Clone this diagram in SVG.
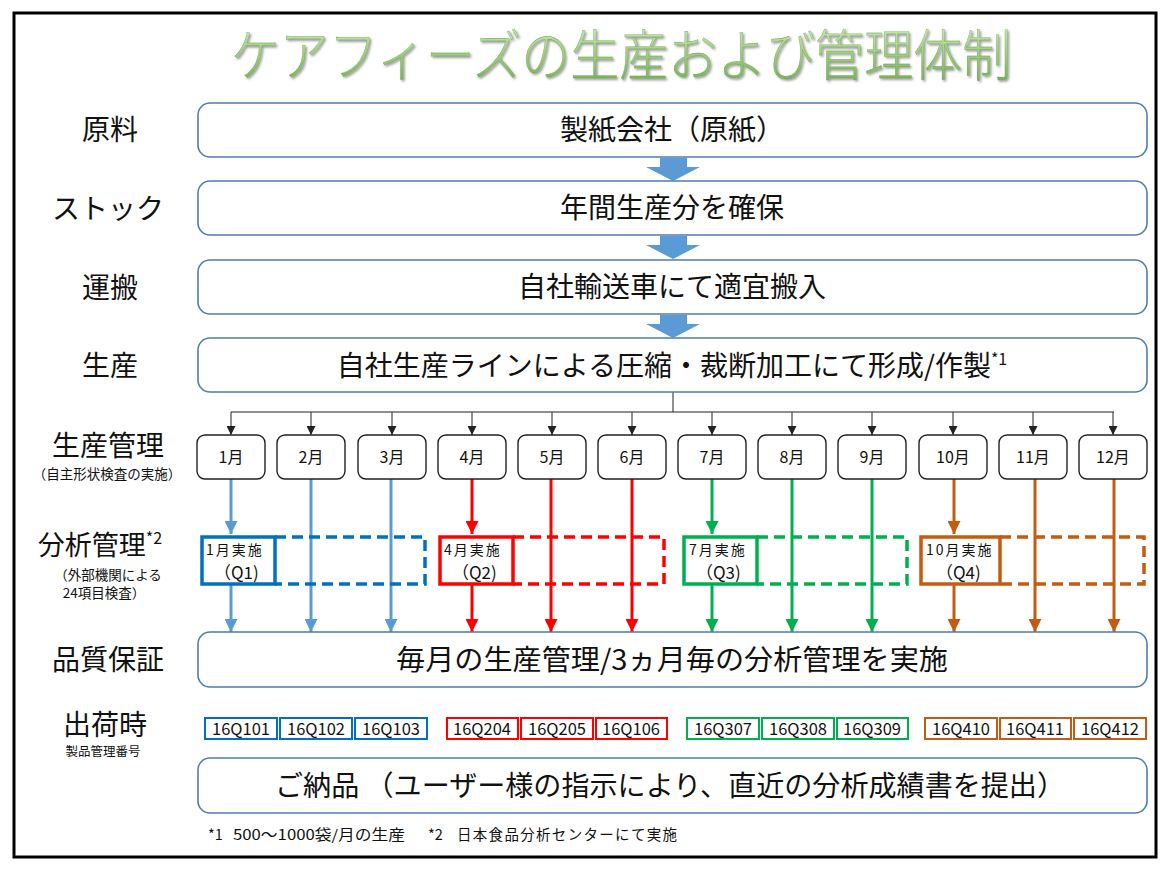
<svg xmlns="http://www.w3.org/2000/svg" width="1170" height="878" viewBox="0 0 1170 878">
<defs>
<style>
text{font-family:"Noto Sans CJK JP","Noto Sans",sans-serif;fill:#111}
.lbl{font-size:28px;text-anchor:middle}
.sub{font-size:13.5px;text-anchor:middle}
.main{fill:#fff;stroke:#4f7eab;stroke-width:1.6}
.mt{font-size:28px;text-anchor:middle}
.mon{fill:#fff;stroke:#222;stroke-width:1.4}
.mtx{font-size:16px;text-anchor:middle}
.tree{stroke:#222;stroke-width:1;fill:none}
.lot{fill:#fff;stroke-width:2}
.ltx{font-size:16.5px;text-anchor:middle}
.qt{font-size:14px;letter-spacing:2px}
.qt2{font-size:17px}
.b{stroke:#5b9bd5}.r{stroke:#ff0000}.g{stroke:#00b050}.o{stroke:#c55a11}
.arr{stroke-width:3;fill:none}
</style>
<linearGradient id="tg" x1="0" y1="0" x2="0" y2="1">
<stop offset="0" stop-color="#e2f2d4"/>
<stop offset="0.45" stop-color="#a9d48a"/>
<stop offset="1" stop-color="#6aa84a"/>
</linearGradient>
<filter id="sh" x="-5%" y="-20%" width="110%" height="140%">
<feDropShadow dx="1.5" dy="1.5" stdDeviation="1" flood-color="#444" flood-opacity="0.55"/>
</filter>
<marker id="mk" viewBox="0 0 10 10" refX="10" refY="5" markerWidth="9" markerHeight="9" markerUnits="userSpaceOnUse" orient="auto"><path d="M0,0L10,5L0,10z" fill="#222"/></marker>
<marker id="mb" viewBox="0 0 10 10" refX="10" refY="5" markerWidth="14" markerHeight="13" markerUnits="userSpaceOnUse" orient="auto"><path d="M0,0L10,5L0,10z" fill="#5b9bd5"/></marker>
<marker id="mr" viewBox="0 0 10 10" refX="10" refY="5" markerWidth="14" markerHeight="13" markerUnits="userSpaceOnUse" orient="auto"><path d="M0,0L10,5L0,10z" fill="#ff0000"/></marker>
<marker id="mg" viewBox="0 0 10 10" refX="10" refY="5" markerWidth="14" markerHeight="13" markerUnits="userSpaceOnUse" orient="auto"><path d="M0,0L10,5L0,10z" fill="#00b050"/></marker>
<marker id="mo" viewBox="0 0 10 10" refX="10" refY="5" markerWidth="14" markerHeight="13" markerUnits="userSpaceOnUse" orient="auto"><path d="M0,0L10,5L0,10z" fill="#c55a11"/></marker>
</defs>
<rect width="1170" height="878" fill="#fff"/>
<rect x="14" y="13" width="1142" height="844" fill="#fff" stroke="#000" stroke-width="3"/>

<g id="title"><text transform="translate(621,75) scale(1,1.12)" x="0" y="0" text-anchor="middle" style="font-size:49px;font-weight:200;fill:url(#tg);stroke:#6aa050;stroke-width:0.3" filter="url(#sh)">ケアフィーズの生産および管理体制</text></g>

<g id="labels">
<text class="lbl" x="110" y="140">原料</text>
<text class="lbl" x="108" y="219">ストック</text>
<text class="lbl" x="110" y="298">運搬</text>
<text class="lbl" x="110" y="376">生産</text>
<text class="lbl" x="108" y="456">生産管理</text>
<text class="sub" x="107" y="479">（自主形状検査の実施）</text>
<text class="lbl" x="100" y="555" style="font-size:27px">分析管理<tspan style="font-size:16px" dy="-11">*2</tspan></text>
<text class="sub" x="108" y="580">（外部機関による</text>
<text class="sub" x="104" y="598">24項目検査）</text>
<text class="lbl" x="108" y="670">品質保証</text>
<text class="lbl" x="105" y="735">出荷時</text>
<text class="sub" x="103" y="756" style="font-size:12.5px">製品管理番号</text>
</g>

<g id="connectors">
<path d="M660,158h27v9h13l-27,14l-27,-14h14z" fill="#5b9bd5"/>
<path d="M660,236h27v9h13l-27,14l-27,-14h14z" fill="#5b9bd5"/>
<path d="M660,315h27v9h13l-27,14l-27,-14h14z" fill="#5b9bd5"/>
<path class="tree" d="M673,392V412M231,412H1114"/>
<g class="tree" marker-end="url(#mk)">
<path d="M231,412V435"/><path d="M311,412V435"/><path d="M392,412V435"/><path d="M472,412V435"/><path d="M552,412V435"/><path d="M632,412V435"/><path d="M712,412V435"/><path d="M792,412V435"/><path d="M872,412V435"/><path d="M953,412V435"/><path d="M1033,412V435"/><path d="M1113,412V435"/>
</g>
<g class="arr b">
<path marker-end="url(#mb)" d="M231,479V534"/><path marker-end="url(#mb)" d="M231,585V632"/>
<path marker-end="url(#mb)" d="M311,479V632"/><path marker-end="url(#mb)" d="M391,479V632"/>
</g>
<g class="arr r">
<path marker-end="url(#mr)" d="M472,479V534"/><path marker-end="url(#mr)" d="M472,585V632"/>
<path marker-end="url(#mr)" d="M551,479V632"/><path marker-end="url(#mr)" d="M632,479V632"/>
</g>
<g class="arr g">
<path marker-end="url(#mg)" d="M712,479V534"/><path marker-end="url(#mg)" d="M712,585V632"/>
<path marker-end="url(#mg)" d="M792,479V632"/><path marker-end="url(#mg)" d="M872,479V632"/>
</g>
<g class="arr o">
<path marker-end="url(#mo)" d="M954,479V534"/><path marker-end="url(#mo)" d="M954,585V632"/>
<path marker-end="url(#mo)" d="M1035,479V632"/><path marker-end="url(#mo)" d="M1114,479V632"/>
</g>
</g>

<g id="n-genryo"><rect class="main" x="198" y="103" width="949" height="54" rx="12"/><text class="mt" x="672" y="140">製紙会社（原紙）</text></g>
<g id="n-stock"><rect class="main" x="198" y="181" width="949" height="54" rx="12"/><text class="mt" x="672" y="218">年間生産分を確保</text></g>
<g id="n-unpan"><rect class="main" x="198" y="260" width="949" height="54" rx="12"/><text class="mt" x="672" y="297">自社輸送車にて適宜搬入</text></g>
<g id="n-seisan"><rect class="main" x="198" y="338" width="949" height="54" rx="12"/><text class="mt" x="672" y="376">自社生産ラインによる圧縮・裁断加工にて形成/作製<tspan style="font-size:16px" dy="-11">*1</tspan></text></g>

<g id="months">
<g id="m1"><rect class="mon" x="197" y="435" width="68" height="44" rx="8"/><text class="mtx" x="231" y="463">1月</text></g>
<g id="m2"><rect class="mon" x="277" y="435" width="68" height="44" rx="8"/><text class="mtx" x="311" y="463">2月</text></g>
<g id="m3"><rect class="mon" x="358" y="435" width="68" height="44" rx="8"/><text class="mtx" x="392" y="463">3月</text></g>
<g id="m4"><rect class="mon" x="438" y="435" width="68" height="44" rx="8"/><text class="mtx" x="472" y="463">4月</text></g>
<g id="m5"><rect class="mon" x="518" y="435" width="68" height="44" rx="8"/><text class="mtx" x="552" y="463">5月</text></g>
<g id="m6"><rect class="mon" x="598" y="435" width="68" height="44" rx="8"/><text class="mtx" x="632" y="463">6月</text></g>
<g id="m7"><rect class="mon" x="678" y="435" width="68" height="44" rx="8"/><text class="mtx" x="712" y="463">7月</text></g>
<g id="m8"><rect class="mon" x="758" y="435" width="68" height="44" rx="8"/><text class="mtx" x="792" y="463">8月</text></g>
<g id="m9"><rect class="mon" x="838" y="435" width="68" height="44" rx="8"/><text class="mtx" x="872" y="463">9月</text></g>
<g id="m10"><rect class="mon" x="919" y="435" width="68" height="44" rx="8"/><text class="mtx" x="953" y="463">10月</text></g>
<g id="m11"><rect class="mon" x="999" y="435" width="68" height="44" rx="8"/><text class="mtx" x="1033" y="463">11月</text></g>
<g id="m12"><rect class="mon" x="1079" y="435" width="68" height="44" rx="8"/><text class="mtx" x="1113" y="463">12月</text></g>
</g>

<g id="q1">
<path d="M275,537H425V584H275" fill="none" stroke="#0070c0" stroke-width="3.5" stroke-dasharray="11,6"/>
<rect x="202" y="537" width="73" height="47" fill="none" stroke="#0070c0" stroke-width="3.5"/>
<text class="qt" x="206" y="555">1月実施</text><text class="qt2" x="214" y="579">（Q1)</text>
</g>
<g id="q2">
<path d="M513,537H664V584H513" fill="none" stroke="#ff0000" stroke-width="3.5" stroke-dasharray="11,6"/>
<rect x="440" y="537" width="73" height="47" fill="none" stroke="#ff0000" stroke-width="3.5"/>
<text class="qt" x="444" y="555">4月実施</text><text class="qt2" x="452" y="579">（Q2)</text>
</g>
<g id="q3">
<path d="M757,537H907V584H757" fill="none" stroke="#00b050" stroke-width="3.5" stroke-dasharray="11,6"/>
<rect x="684" y="537" width="73" height="47" fill="none" stroke="#00b050" stroke-width="3.5"/>
<text class="qt" x="689" y="555">7月実施</text><text class="qt2" x="696" y="579">（Q3)</text>
</g>
<g id="q4">
<path d="M1000,537H1144V584H1000" fill="none" stroke="#c55a11" stroke-width="3.5" stroke-dasharray="11,6"/>
<rect x="921" y="537" width="79" height="47" fill="none" stroke="#c55a11" stroke-width="3.5"/>
<text class="qt" x="926" y="555">10月実施</text><text class="qt2" x="936" y="579">（Q4)</text>
</g>

<g id="n-quality"><rect class="main" x="198" y="632" width="949" height="55" rx="12"/><text class="mt" x="672" y="670" textLength="552" lengthAdjust="spacingAndGlyphs">毎月の生産管理/3ヵ月毎の分析管理を実施</text></g>

<g id="lots">
<rect class="lot" stroke="#0070c0" x="205" y="718" width="72" height="21"/><text class="ltx" x="241" y="735">16Q101</text>
<rect class="lot" stroke="#0070c0" x="280" y="718" width="72" height="21"/><text class="ltx" x="316" y="735">16Q102</text>
<rect class="lot" stroke="#0070c0" x="355" y="718" width="72" height="21"/><text class="ltx" x="391" y="735">16Q103</text>
<rect class="lot" stroke="#ff0000" x="447" y="718" width="71" height="21"/><text class="ltx" x="482" y="735">16Q204</text>
<rect class="lot" stroke="#ff0000" x="521" y="718" width="72" height="21"/><text class="ltx" x="557" y="735">16Q205</text>
<rect class="lot" stroke="#ff0000" x="596" y="718" width="71" height="21"/><text class="ltx" x="631" y="735">16Q106</text>
<rect class="lot" stroke="#00b050" x="687" y="718" width="72" height="21"/><text class="ltx" x="723" y="735">16Q307</text>
<rect class="lot" stroke="#00b050" x="762" y="718" width="72" height="21"/><text class="ltx" x="798" y="735">16Q308</text>
<rect class="lot" stroke="#00b050" x="837" y="718" width="71" height="21"/><text class="ltx" x="872" y="735">16Q309</text>
<rect class="lot" stroke="#c55a11" x="925" y="718" width="72" height="21"/><text class="ltx" x="961" y="735">16Q410</text>
<rect class="lot" stroke="#c55a11" x="1000" y="718" width="71" height="21"/><text class="ltx" x="1035" y="735">16Q411</text>
<rect class="lot" stroke="#c55a11" x="1074" y="718" width="72" height="21"/><text class="ltx" x="1110" y="735">16Q412</text>
</g>

<g id="n-delivery"><rect class="main" x="198" y="758" width="949" height="55" rx="12"/><text class="mt" x="670" y="796" textLength="790" lengthAdjust="spacingAndGlyphs">ご納品 （ユーザー様の指示により、直近の分析成績書を提出）</text></g>

<g id="footnote" style="font-size:14.5px">
<text x="208" y="840">*1</text>
<text x="233" y="840" textLength="172" lengthAdjust="spacingAndGlyphs">500～1000袋/月の生産</text>
<text x="428" y="840">*2</text>
<text x="457" y="840" textLength="220" lengthAdjust="spacing">日本食品分析センターにて実施</text>
</g>
</svg>
